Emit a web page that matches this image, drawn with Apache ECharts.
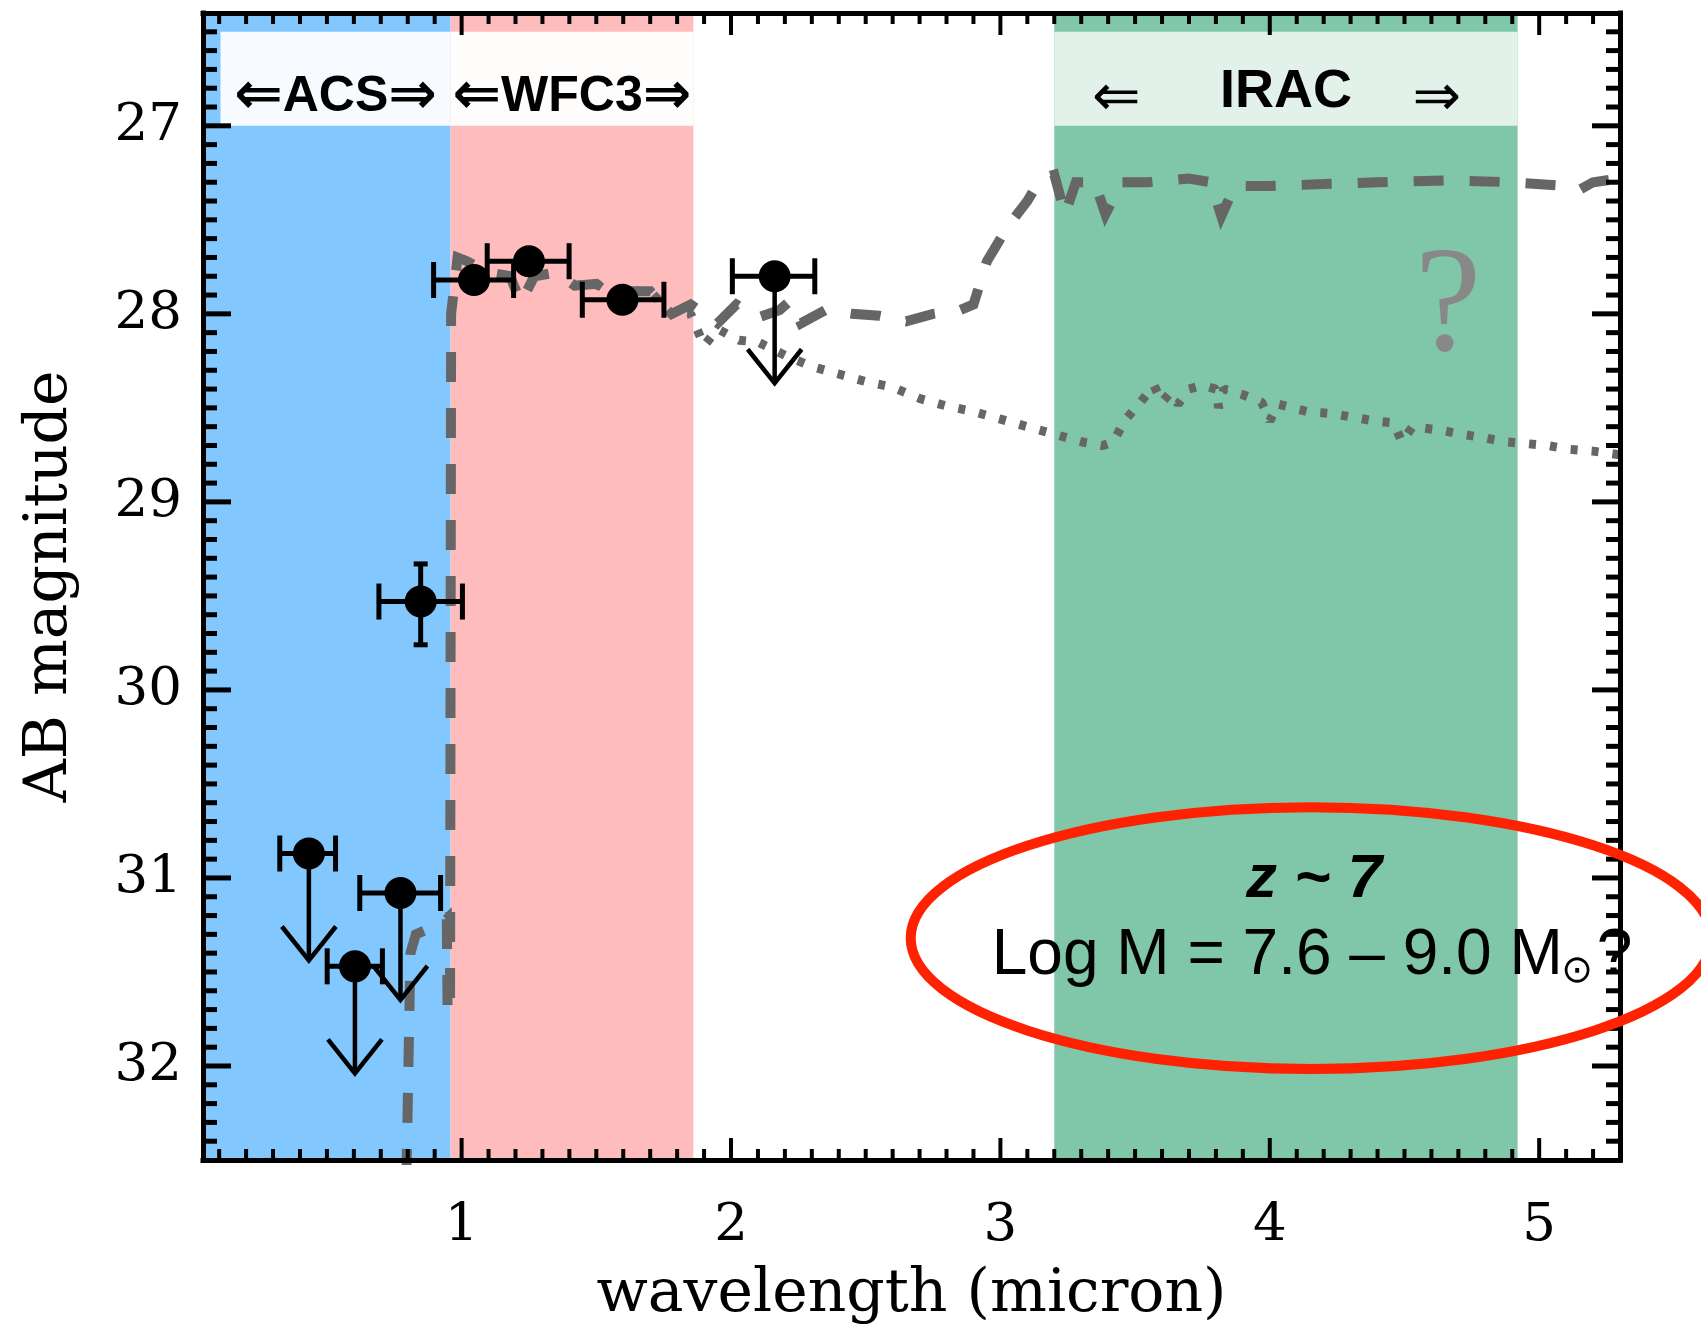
<!DOCTYPE html>
<html><head><meta charset="utf-8">
<script src="https://cdn.jsdelivr.net/npm/echarts@6/dist/echarts.min.js"></script>
<style>html,body{margin:0;padding:0;background:#fff}#c{width:1701px;height:1327px}</style>
</head><body><div id="c"></div>
<script>
// ---- axes ----
const xRange = [0.04, 5.3];
const yRange = [26.4, 32.5];
const xMajorTicks = [1, 2, 3, 4, 5];
const yMajorTicks = [27, 28, 29, 30, 31, 32];
const xTickLabels = ['1', '2', '3', '4', '5'];
const yTickLabels = ['27', '28', '29', '30', '31', '32'];

// ---- filter bands ----
const bandNames = ['ACS', 'WFC3', 'IRAC'];
const bandStart = [0.04, 0.959, 3.2];
const bandEnd = [0.959, 1.86, 4.92];
const boxStart = [0.105, 0.959, 3.2];
const boxEnd = [0.959, 1.86, 4.92];
const boxTop = [26.5, 26.5, 26.5];
const boxBottom = [27.0, 27.0, 27.0];

// ---- detections ----
const detX = [0.848, 1.046, 1.25, 1.597];
const detY = [29.53, 27.82, 27.72, 27.925];
const detXLo = [0.693, 0.896, 1.095, 1.448];
const detXHi = [1.003, 1.193, 1.399, 1.751];
const detYLo = [29.33, 27.82, 27.72, 27.925];
const detYHi = [29.76, 27.82, 27.72, 27.925];

// ---- upper limits ----
const limX = [0.433, 0.604, 0.773, 2.162];
const limY = [30.87, 31.47, 31.08, 27.80];
const limXLo = [0.325, 0.501, 0.622, 2.005];
const limXHi = [0.532, 0.706, 0.922, 2.311];

// ---- model SEDs ----
const dashedModel = [
  [0.795,32.6],[0.81,31.4],[0.83,31.3],[0.88,31.27],[0.925,31.25],[0.945,31.22],[0.948,31.72],[0.957,31.72],
  [0.961,28.0],[0.985,27.7],[1.02,27.72],[1.1,27.78],[1.18,27.8],[1.22,27.94],[1.27,27.8],[1.35,27.78],
  [1.42,27.85],[1.5,27.84],[1.56,27.9],[1.63,27.88],[1.7,27.88],[1.78,28.0],[1.85,27.95],[1.95,28.05],
  [2.02,27.95],[2.1,28.02],[2.18,27.98],[2.22,27.93],[2.26,28.05],[2.35,27.98],[2.45,28.0],[2.55,28.01],
  [2.65,28.04],[2.75,28.0],[2.85,27.98],[2.9,27.95],[2.95,27.72],[3.03,27.53],[3.1,27.4],[3.15,27.28],
  [3.2,27.26],[3.24,27.47],[3.28,27.3],[3.35,27.3],[3.39,27.47],[3.45,27.3],[3.55,27.3],[3.7,27.28],
  [3.78,27.3],[3.82,27.48],[3.87,27.32],[4.0,27.32],[4.2,27.31],[4.4,27.3],[4.65,27.29],[4.9,27.3],
  [5.1,27.32],[5.15,27.34],[5.2,27.3],[5.3,27.28]
];
const dottedModel = [
  [1.42,27.85],[1.5,27.84],[1.56,27.9],[1.63,27.88],[1.7,27.88],[1.78,28.0],[1.85,28.0],[1.9,28.17],
  [1.95,28.08],[2.03,28.14],[2.1,28.15],[2.2,28.22],[2.3,28.28],[2.4,28.32],[2.5,28.36],[2.6,28.39],
  [2.7,28.45],[2.8,28.49],[2.9,28.52],[3.0,28.56],[3.1,28.6],[3.2,28.64],[3.3,28.68],[3.38,28.7],
  [3.42,28.68],[3.46,28.57],[3.52,28.47],[3.57,28.38],[3.6,28.47],[3.63,28.42],[3.66,28.48],[3.7,28.4],
  [3.75,28.38],[3.8,28.4],[3.81,28.5],[3.83,28.4],[3.9,28.43],[3.97,28.47],[4.0,28.57],[4.03,28.48],
  [4.14,28.52],[4.23,28.53],[4.31,28.55],[4.39,28.57],[4.46,28.58],[4.49,28.68],[4.53,28.6],[4.64,28.62],
  [4.71,28.64],[4.8,28.66],[4.87,28.68],[4.95,28.69],[5.03,28.7],[5.11,28.72],[5.2,28.73],[5.3,28.75]
];

// ---- styling ----
const bandColors = ['#82c8ff', '#ffbcbc', '#80c6a8'];
const boxColors = ['#f7fbff', '#fffdfc', '#e2f2ea'];
const serif = 'DejaVu Serif';
const sans = '"Liberation Sans", Arial, "DejaVu Sans", sans-serif';

// tick positions (axis structure)
const tickData = [];
for (let i = 1; i <= 52; i++) { const v = i / 10; tickData.push([v, 0, xMajorTicks.indexOf(v) >= 0 ? 1 : 0]); }
for (let i = 265; i <= 324; i++) { const v = i / 10; tickData.push([v, 1, yMajorTicks.indexOf(v) >= 0 ? 1 : 0]); }

const bandData = bandStart.map((s, i) => [s, bandEnd[i], i]);
const boxData = boxStart.map((s, i) => [s, boxEnd[i], i, boxTop[i], boxBottom[i]]);
const pointData = detX.map((x, i) => [x, detY[i], detXLo[i], detXHi[i], detYLo[i], detYHi[i], 0])
  .concat(limX.map((x, i) => [x, limY[i], limXLo[i], limXHi[i], limY[i], limY[i], 1]));

function ln(x1, y1, x2, y2, w) {
  return { type: 'line', shape: { x1, y1, x2, y2 }, style: { stroke: '#000', lineWidth: w } };
}

function renderBand(params, api) {
  const p1 = api.coord([api.value(0), yRange[0]]);
  const p2 = api.coord([api.value(1), yRange[1]]);
  return { type: 'rect', shape: { x: p1[0], y: p1[1], width: p2[0] - p1[0], height: p2[1] - p1[1] },
    style: { fill: bandColors[api.value(2)] } };
}
function renderBox(params, api) {
  const p1 = api.coord([api.value(0), api.value(3)]);
  const p2 = api.coord([api.value(1), api.value(4)]);
  return { type: 'rect', shape: { x: p1[0], y: p1[1], width: p2[0] - p1[0], height: p2[1] - p1[1] },
    style: { fill: boxColors[api.value(2)] } };
}
function renderPoint(params, api) {
  const x = api.value(0), y = api.value(1);
  const c = api.coord([x, y]);
  const l = api.coord([api.value(2), y]);
  const r = api.coord([api.value(3), y]);
  const yl = api.coord([x, api.value(4)]);
  const yh = api.coord([x, api.value(5)]);
  const w = 5;
  const ch = [];
  ch.push(ln(l[0], c[1], r[0], c[1], w));
  ch.push(ln(l[0], c[1] - 18, l[0], c[1] + 18, w));
  ch.push(ln(r[0], c[1] - 18, r[0], c[1] + 18, w));
  if (Math.abs(yl[1] - yh[1]) > 1) {
    ch.push(ln(c[0], yl[1], c[0], yh[1], w));
    ch.push(ln(c[0] - 7, yl[1], c[0] + 7, yl[1], w));
    ch.push(ln(c[0] - 7, yh[1], c[0] + 7, yh[1], w));
  }
  if (api.value(6)) {
    const tip = c[1] + 107;
    ch.push(ln(c[0], c[1], c[0], tip, 4.5));
    ch.push({ type: 'polyline', shape: { points: [[c[0] - 27, tip - 34], [c[0], tip], [c[0] + 27, tip - 34]] },
      style: { stroke: '#000', lineWidth: 4.5, fill: null } });
  }
  ch.push({ type: 'circle', shape: { cx: c[0], cy: c[1], r: 16 }, style: { fill: '#000' } });
  return { type: 'group', children: ch };
}
function renderTick(params, api) {
  const v = api.value(0), isY = api.value(1), major = api.value(2);
  const cs = params.coordSys;
  if (!isY) {
    const px = api.coord([v, yRange[0]])[0];
    const len = major ? 22 : 11;
    const b = cs.y + cs.height, t = cs.y;
    return { type: 'group', children: [ln(px, b, px, b - len, 4), ln(px, t, px, t + len, 4)] };
  } else {
    const py = api.coord([xRange[0], v])[1];
    const len = major ? 28 : 14;
    const lft = cs.x, rt = cs.x + cs.width;
    return { type: 'group', children: [ln(lft, py, lft + len, py, 5), ln(rt, py, rt - len, py, 5)] };
  }
}

const axisLineStyle = { show: true, onZero: false, lineStyle: { color: '#000', width: 5, cap: 'square' } };

const option = {
  animation: false,
  backgroundColor: '#ffffff',
  grid: { left: 203, right: 81, top: 13, bottom: 167, containLabel: false, outerBoundsMode: 'none' },
  xAxis: [
    { type: 'value', min: xRange[0], max: xRange[1], position: 'bottom', z: 6,
      axisLine: axisLineStyle, axisTick: { show: false }, splitLine: { show: false },
      axisLabel: { customValues: xMajorTicks, formatter: v => xTickLabels[xMajorTicks.indexOf(v)] ?? String(v),
        margin: 40, color: '#000', fontFamily: serif, fontSize: 53 },
      name: 'wavelength (micron)', nameLocation: 'middle', nameGap: 105,
      nameTextStyle: { fontFamily: serif, fontSize: 60, color: '#000' } },
    { type: 'value', min: xRange[0], max: xRange[1], position: 'top', z: 6,
      axisLine: axisLineStyle, axisTick: { show: false }, splitLine: { show: false }, axisLabel: { show: false } }
  ],
  yAxis: [
    { type: 'value', min: yRange[0], max: yRange[1], inverse: true, position: 'left', z: 6,
      axisLine: axisLineStyle, axisTick: { show: false }, splitLine: { show: false },
      axisLabel: { customValues: yMajorTicks, formatter: v => yTickLabels[yMajorTicks.indexOf(v)] ?? String(v),
        margin: 21, color: '#000', fontFamily: serif, fontSize: 53 },
      name: 'AB magnitude', nameLocation: 'middle', nameGap: 123,
      nameTextStyle: { fontFamily: serif, fontSize: 60, color: '#000' } },
    { type: 'value', min: yRange[0], max: yRange[1], inverse: true, position: 'right', z: 6,
      axisLine: axisLineStyle, axisTick: { show: false }, splitLine: { show: false }, axisLabel: { show: false } }
  ],
  series: [
    { name: 'bands', type: 'custom', z: 1, silent: true, data: bandData, renderItem: renderBand, clip: true,
      encode: { x: [0, 1], y: -1 } },
    { name: 'boxes', type: 'custom', z: 1.5, silent: true, data: boxData, renderItem: renderBox, clip: true,
      encode: { x: [0, 1], y: [3, 4] } },
    { name: 'dashed model', type: 'line', z: 3, data: dashedModel, showSymbol: false, clip: true, smooth: false,
      lineStyle: { color: '#666666', width: 10, type: [30, 26], cap: 'butt', join: 'miter' } },
    { name: 'dotted model', type: 'line', z: 3, data: dottedModel, showSymbol: false, clip: true,
      lineStyle: { color: '#666666', width: 9, type: [7, 14], cap: 'butt' } },
    { name: 'photometry', type: 'custom', z: 4, data: pointData, renderItem: renderPoint, clip: false,
      encode: { x: 0, y: 1 } },
    { name: 'ticks', type: 'custom', z: 5, silent: true, data: tickData, renderItem: renderTick, clip: false,
      encode: { x: 0, y: -1 } }
  ]
};

const chart = echarts.init(document.getElementById('c'), null, { renderer: 'canvas' });
chart.setOption(option);

const P = (x, y) => chart.convertToPixel({ gridIndex: 0 }, [x, y]);
function txt(text, at, font, extra) {
  const p = P(at[0], at[1]);
  return Object.assign({ type: 'text', x: p[0], y: p[1], z: 100,
    style: Object.assign({ text, font, fill: '#000', align: 'center', verticalAlign: 'middle' }, extra || {}) });
}
const arrowRich = { a: { fontFamily: 'DejaVu Sans', fontWeight: 'bold', fontSize: 58, fill: '#000' } };
const ell = P(4.153, 31.32);
const ellR = P(4.153 + 1.486, 31.32 + 0.696);
chart.setOption({
  graphic: [
    txt('{a|⇐}ACS{a|⇒}', [(boxStart[0] + boxEnd[0]) / 2, 26.85], 'bold 50px ' + sans, { rich: arrowRich }),
    txt('{a|⇐}WFC3{a|⇒}', [(boxStart[1] + boxEnd[1]) / 2, 26.85], 'bold 50px ' + sans, { rich: arrowRich }),
    txt('⇐', [3.43, 26.86], '58px "DejaVu Sans", sans-serif'),
    txt('IRAC', [4.06, 26.82], 'bold 54px ' + sans),
    txt('⇒', [4.62, 26.86], '58px "DejaVu Sans", sans-serif'),
    txt('?', [4.662, 27.985], '150px "Liberation Serif", "Times New Roman", serif', { fill: '#888888' }),
    txt('z ~ 7', [4.164, 31.01], 'italic bold 62px ' + sans),
    txt('Log M = 7.6 – 9.0 M', [2.968, 31.416], '64px ' + sans, { align: 'left' }),
    txt('⊙', [5.141, 31.5], '38px "DejaVu Sans", sans-serif'),
    txt('?', [5.28, 31.416], '64px ' + sans),
    { type: 'ellipse', z: 110, shape: { cx: ell[0], cy: ell[1], rx: ellR[0] - ell[0], ry: ellR[1] - ell[1] },
      style: { fill: 'none', stroke: '#ff2200', lineWidth: 10 } }
  ]
});
</script>
</body></html>
